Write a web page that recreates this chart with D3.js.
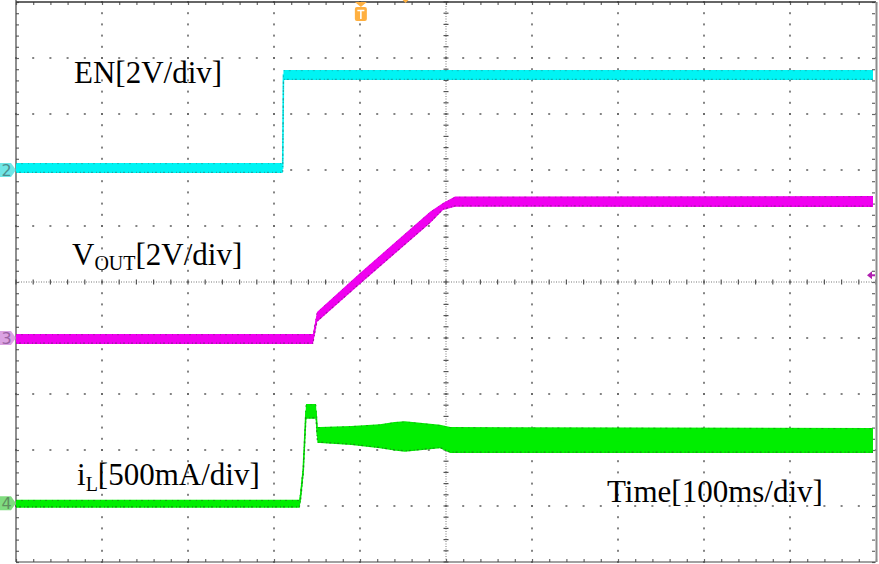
<!DOCTYPE html>
<html>
<head>
<meta charset="utf-8">
<script src="https://cdn.jsdelivr.net/npm/d3@7"></script>
<style>
  html, body { margin: 0; padding: 0; background: #fff; }
  svg { display: block; }
  text { font-family: "Liberation Serif", "Times New Roman", serif; }
</style>
</head>
<body>
<svg id="chart" width="879" height="564"></svg>
<script>
// ---------------- data (time in ms, values in channel units) ----------------
const enTime  = [0, 310.1, 311, 996.5];
const enLow   = [-0.11, -0.11, 3.21, 3.21];        // V
const enHigh  = [0.25, 0.25, 3.57, 3.57];          // V

const voutTime = [0, 345.3, 350, 400, 481.4, 496.5, 510.5, 996.5];
const voutLow  = [-0.21, -0.21, 0.57, 1.93, 4.10, 4.57, 4.69, 4.68];  // V
const voutHigh = [0.14, 0.14, 0.93, 2.32, 4.51, 4.82, 5.05, 5.07];    // V

const ilTime = [0, 329.5, 331, 334, 337.2, 348.8, 350.5, 353.5, 390, 423, 440, 452, 470, 493, 505, 996.5];
const ilLow  = [-40, -40, 20, 250, 755, 755, 537, 537, 520, 490, 470, 460, 472, 490, 448, 448];   // mA
const ilHigh = [30, 30, 120, 340, 885, 885, 680, 680, 690, 705, 725, 732, 718, 700, 680, 671];    // mA

const labels = ["EN[2V/div]", "V", "OUT", "[2V/div]", "i", "L", "[500mA/div]", "Time[100ms/div]"];
const channelTags = ["2", "3", "4"];

// ---------------- layout ----------------
const svg = d3.select("#chart");
const x = d3.scaleLinear().domain([0, 1000]).range([16, 876]);   // 100 ms / div
const yDiv = d3.scaleLinear().domain([-5, 5]).range([562, 2]);   // screen divisions

const channels = [
  { tag: channelTags[0], offset: 2.0,   perDiv: 2,   time: enTime,   lo: enLow,   hi: enHigh,
    fill: "#00f4f4", edge: "#1a9a9a", tagFill: "#6fe6e6", tagText: "#4b8f8f" },
  { tag: channelTags[1], offset: -1.0,  perDiv: 2,   time: voutTime, lo: voutLow, hi: voutHigh,
    fill: "#f000f0", edge: "#8a1a8a", tagFill: "#dba3e3", tagText: "#9a62a4" },
  { tag: channelTags[2], offset: -3.95, perDiv: 500, time: ilTime,   lo: ilLow,   hi: ilHigh,
    fill: "#00ee00", edge: "#1a7a1a", tagFill: "#80dc80", tagText: "#5f8f5f" }
];

// ---------------- grid ----------------
const grid = svg.append("g");
const majorX = d3.range(0, 1001, 100);
const majorY = d3.range(-5, 5.01, 1);
const minorX = d3.range(0, 1000.01, 20);
const minorY = d3.range(-5, 5.001, 0.2);

majorX.filter(v => v > 0 && v < 1000 && v !== 500).forEach(v => {
  grid.selectAll(null).data(minorY).enter().append("rect")
    .attr("x", x(v) - 0.8).attr("y", d => yDiv(d) - 1)
    .attr("width", 1.6).attr("height", 2).attr("fill", "#666");
});
majorY.filter(v => v > -5 && v < 5 && v !== 0).forEach(v => {
  grid.selectAll(null).data(minorX).enter().append("rect")
    .attr("x", d => x(d) - 1).attr("y", yDiv(v) - 0.8)
    .attr("width", 2).attr("height", 1.6).attr("fill", "#666");
});
// centre lines
grid.append("line").attr("x1", x(0)).attr("x2", x(1000)).attr("y1", yDiv(0)).attr("y2", yDiv(0))
  .attr("stroke", "#777").attr("stroke-width", 1).attr("stroke-dasharray", "1,1.5");
grid.append("line").attr("x1", x(500)).attr("x2", x(500)).attr("y1", yDiv(-5)).attr("y2", yDiv(5))
  .attr("stroke", "#777").attr("stroke-width", 1).attr("stroke-dasharray", "1,1.5");
grid.selectAll(null).data(minorX).enter().append("line")
  .attr("x1", d => x(d)).attr("x2", d => x(d)).attr("y1", yDiv(0) - 2.5).attr("y2", yDiv(0) + 2.5)
  .attr("stroke", "#555").attr("stroke-width", 1.2);
grid.selectAll(null).data(minorY).enter().append("line")
  .attr("y1", d => yDiv(d)).attr("y2", d => yDiv(d)).attr("x1", x(500) - 2.5).attr("x2", x(500) + 2.5)
  .attr("stroke", "#555").attr("stroke-width", 1.2);

// border ticks via axes
const tickAxis = (axis, tr) => {
  const g = svg.append("g").attr("transform", tr).call(axis);
  g.select(".domain").remove();
  g.selectAll("text").remove();
  g.selectAll("line").attr("stroke", "#666").attr("stroke-width", 1.2);
};
tickAxis(d3.axisBottom(x).tickValues(minorX).tickSize(3), `translate(0,${yDiv(5)})`);
tickAxis(d3.axisTop(x).tickValues(minorX).tickSize(3), `translate(0,${yDiv(-5)})`);
tickAxis(d3.axisRight(yDiv).tickValues(minorY).tickSize(3), `translate(${x(0)},0)`);
tickAxis(d3.axisLeft(yDiv).tickValues(minorY).tickSize(3), `translate(${x(1000) - 1},0)`);

// border
svg.append("line").attr("x1", x(0)).attr("x2", x(1000)).attr("y1", yDiv(5)).attr("y2", yDiv(5))
  .attr("stroke", "#333").attr("stroke-width", 1.5);
svg.append("line").attr("x1", x(0)).attr("x2", x(1000)).attr("y1", yDiv(-5)).attr("y2", yDiv(-5))
  .attr("stroke", "#444").attr("stroke-width", 1.2);
svg.append("line").attr("x1", x(0)).attr("x2", x(0)).attr("y1", 0).attr("y2", yDiv(-5))
  .attr("stroke", "#444").attr("stroke-width", 1.2);
svg.append("line").attr("x1", x(1000) + 0.5).attr("x2", x(1000) + 0.5).attr("y1", yDiv(5)).attr("y2", yDiv(-5))
  .attr("stroke", "#8c8c8c").attr("stroke-width", 2);

// ---------------- traces ----------------
channels.forEach(c => {
  const yv = v => yDiv(c.offset + v / c.perDiv);
  const pts = c.time.map((t, i) => ({ t, lo: c.lo[i], hi: c.hi[i] }));
  const area = d3.area().x(d => x(d.t)).y0(d => yv(d.lo)).y1(d => yv(d.hi));
  const g = svg.append("g");
  g.append("path").datum(pts).attr("d", area).attr("fill", c.fill);
  g.append("path").datum(pts)
    .attr("d", d3.line().x(d => x(d.t)).y(d => yv((d.lo + d.hi) / 2)))
    .attr("fill", "none").attr("stroke", c.fill).attr("stroke-width", 1.6);
  g.append("path").datum(pts)
    .attr("d", d3.line().x(d => x(d.t)).y(d => yv(d.lo) - 0.8))
    .attr("fill", "none").attr("stroke", c.edge).attr("stroke-width", 1.2)
    .attr("stroke-dasharray", "1,2,2,3").attr("opacity", 0.8);
  g.append("path").datum(pts)
    .attr("d", d3.line().x(d => x(d.t)).y(d => yv(d.hi) + 0.6))
    .attr("fill", "none").attr("stroke", c.edge).attr("stroke-width", 1)
    .attr("stroke-dasharray", "1,4,2,5").attr("opacity", 0.6);

  const cy = yDiv(c.offset);
  svg.append("path")
    .attr("d", `M0,${cy - 7} L11,${cy - 7} L16,${cy} L11,${cy + 7} L0,${cy + 7} Z`)
    .attr("fill", c.tagFill);
  svg.append("text").attr("x", 6.5).attr("y", cy + 6)
    .attr("text-anchor", "middle")
    .style("font-family", "'DejaVu Sans', sans-serif").style("font-size", "16px")
    .attr("fill", c.tagText).text(c.tag);
});

// ---------------- trigger markers ----------------
const tx = x(401);
svg.append("path").attr("d", `M${tx - 6},2 L${tx + 6},2 L${tx},7 Z`).attr("fill", "#ffb040");
svg.append("rect").attr("x", tx - 6).attr("y", 7).attr("width", 12).attr("height", 14)
  .attr("rx", 2).attr("fill", "#ffb040");
svg.append("path").attr("d", `M${tx - 3.5},10.5 L${tx + 3.5},10.5 M${tx},10.5 L${tx},19`)
  .attr("stroke", "#fff").attr("stroke-width", 1.6).attr("fill", "none");
svg.append("path").attr("d", `M${x(453) - 3},0 L${x(453) + 3},0 L${x(453)},3 Z`).attr("fill", "#ffb040");
const ly = yDiv(0.12);
svg.append("path").attr("d", `M${x(1000) - 9},${ly} L${x(1000) - 4},${ly - 4} L${x(1000) - 4},${ly + 4} Z`)
  .attr("fill", "#b020b0");
svg.append("line").attr("x1", x(1000) - 5).attr("x2", x(1000) - 1).attr("y1", ly).attr("y2", ly)
  .attr("stroke", "#b020b0").attr("stroke-width", 2);

// ---------------- labels ----------------
const lab = svg.append("g").style("font-size", "31px").attr("fill", "#000");
lab.append("text").attr("x", 74).attr("y", 83).text(labels[0]);
const vt = lab.append("text").attr("x", 72).attr("y", 265);
vt.append("tspan").text(labels[1]);
vt.append("tspan").attr("dy", 5).style("font-size", "20px").text(labels[2]);
vt.append("tspan").attr("dy", -5).text(labels[3]);
const it = lab.append("text").attr("x", 77).attr("y", 485);
it.append("tspan").text(labels[4]);
it.append("tspan").attr("dy", 6).style("font-size", "20px").text(labels[5]);
it.append("tspan").attr("dy", -6).text(labels[6]);
lab.append("text").attr("x", 607).attr("y", 502).text(labels[7]);
</script>
</body>
</html>
